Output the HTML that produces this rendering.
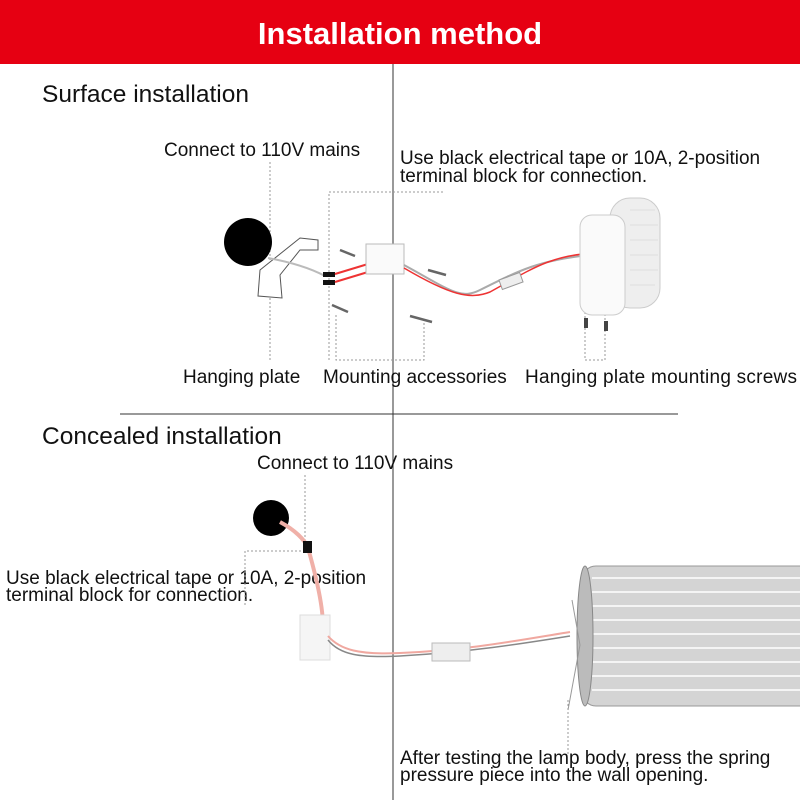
<!DOCTYPE html>
<html><head><meta charset="utf-8"><style>
html,body{margin:0;padding:0;background:#fff;width:800px;height:800px;overflow:hidden}
text{font-family:"Liberation Sans",sans-serif;fill:#111}
</style></head><body>
<svg width="800" height="800" viewBox="0 0 800 800" xmlns="http://www.w3.org/2000/svg">
<rect x="0" y="0" width="800" height="64" fill="#e60012"/>
<text x="400" y="44" text-anchor="middle" font-size="31" font-weight="bold" style="fill:#fff">Installation method</text>
<line x1="393" y1="64" x2="393" y2="800" stroke="#333" stroke-width="1"/>
<line x1="120" y1="414" x2="678" y2="414" stroke="#333" stroke-width="1"/>
<text x="42" y="102" font-size="24.5">Surface installation</text>
<text x="42" y="444" font-size="24.5">Concealed installation</text>
<g font-size="19">
<text x="164" y="156">Connect to 110V mains</text>
<text x="400" y="164">Use black electrical tape or 10A, 2-position</text>
<text x="400" y="182">terminal block for connection.</text>
<text x="183" y="383">Hanging plate</text>
<text x="323" y="383">Mounting accessories</text>
<text x="525" y="383" textLength="272">Hanging plate mounting screws</text>
<text x="257" y="469">Connect to 110V mains</text>
<text x="6" y="584">Use black electrical tape or 10A, 2-position</text>
<text x="6" y="601">terminal block for connection.</text>
<text x="400" y="764">After testing the lamp body, press the spring</text>
<text x="400" y="781">pressure piece into the wall opening.</text>
</g>
<g stroke="#999" stroke-width="1" stroke-dasharray="2,2" fill="none">
<line x1="270" y1="162" x2="270" y2="360"/>
<polyline points="329,360 329,192 445,192"/>
<polyline points="336,315 336,360 424,360 424,320"/>
<polyline points="585,300 585,360 605,360 605,300"/>
<line x1="305" y1="475" x2="305" y2="545"/>
<polyline points="245,605 245,551 305,551"/>
<line x1="568" y1="700" x2="568" y2="755"/>
</g>
<!-- top drawing -->
<circle cx="248" cy="242" r="24" fill="#000"/>
<path d="M260,270 L300,238 L318,240 L318,250 L300,250 L280,275 L282,298 L258,296 Z" fill="#fff" stroke="#555"/>
<path d="M268,258 C290,262 310,268 325,276" stroke="#bbb" stroke-width="2" fill="none"/>
<rect x="323" y="272" width="12" height="5" fill="#111"/><rect x="323" y="280" width="12" height="5" fill="#111"/>
<path d="M335,274 L368,264 M335,282 L368,272" stroke="#e33" stroke-width="2"/>
<rect x="366" y="244" width="38" height="30" fill="#fafafa" stroke="#bbb"/>
<path d="M404,265 C450,290 460,300 480,290 C520,270 540,260 590,255" stroke="#aaa" stroke-width="2" fill="none"/>
<path d="M404,268 C450,295 470,300 490,292 C530,270 550,255 595,253" stroke="#e33" stroke-width="1.5" fill="none"/>
<rect x="500" y="276" width="22" height="10" fill="#eee" stroke="#999" transform="rotate(-20 511 281)"/>
<rect x="610" y="198" width="50" height="110" rx="20" fill="#eee" stroke="#ccc"/>
<g stroke="#ddd"><line x1="630" y1="210" x2="655" y2="210"/><line x1="630" y1="225" x2="658" y2="225"/><line x1="630" y1="240" x2="658" y2="240"/><line x1="630" y1="255" x2="658" y2="255"/><line x1="630" y1="270" x2="658" y2="270"/><line x1="630" y1="285" x2="655" y2="285"/></g>
<rect x="580" y="215" width="45" height="100" rx="12" fill="#fafafa" stroke="#ccc"/>
<rect x="584" y="318" width="4" height="10" fill="#444"/><rect x="604" y="321" width="4" height="10" fill="#444"/>
<path d="M340,250 L355,256 M332,305 L348,312 M428,270 L446,275 M410,316 L432,322" stroke="#666" stroke-width="2.5"/>
<!-- bottom drawing -->
<circle cx="271" cy="518" r="18" fill="#000"/>
<path d="M280,522 C295,530 305,540 308,548 C320,590 325,620 322,635" stroke="#f0b0a8" stroke-width="4" fill="none"/>
<rect x="303" y="541" width="9" height="12" fill="#111"/>
<rect x="300" y="615" width="30" height="45" fill="#f5f5f5" stroke="#ddd"/>
<path d="M328,636 C340,650 360,655 400,653 C470,650 520,640 570,632" stroke="#f0a8a0" stroke-width="2" fill="none"/>
<path d="M328,640 C340,655 360,658 400,656 C470,652 520,644 570,636" stroke="#888" stroke-width="1.5" fill="none"/>
<rect x="432" y="643" width="38" height="18" fill="#eee" stroke="#bbb"/>
<rect x="582" y="566" width="240" height="140" rx="14" fill="#d4d4d4" stroke="#999"/>
<g stroke="#f4f4f4" stroke-width="2"><line x1="592" y1="578" x2="800" y2="578"/><line x1="592" y1="592" x2="800" y2="592"/><line x1="592" y1="606" x2="800" y2="606"/><line x1="592" y1="620" x2="800" y2="620"/><line x1="592" y1="634" x2="800" y2="634"/><line x1="592" y1="648" x2="800" y2="648"/><line x1="592" y1="662" x2="800" y2="662"/><line x1="592" y1="676" x2="800" y2="676"/><line x1="592" y1="690" x2="800" y2="690"/></g>
<ellipse cx="585" cy="636" rx="8" ry="70" fill="#bbb" stroke="#888"/>
<path d="M572,600 L580,645 L568,710" stroke="#999" fill="none"/>
</svg>
</body></html>
